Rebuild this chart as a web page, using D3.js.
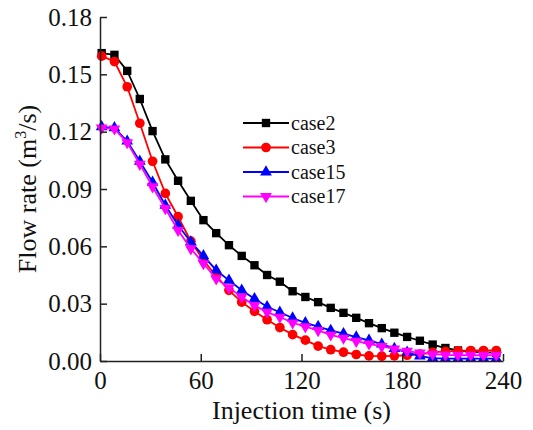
<!DOCTYPE html>
<html>
<head>
<meta charset="utf-8">
<script src="https://cdn.jsdelivr.net/npm/d3@7"></script>
<style>
  html, body { margin: 0; padding: 0; background: #fff; }
  svg { display: block; }
  text { font-family: "Liberation Serif", "Times New Roman", serif; fill: #111; }
</style>
</head>
<body>
<svg id="chart" width="533" height="430"></svg>
<script>
// Injection time samples (s)
const times = [1.0, 8.6, 16.2, 23.7, 31.3, 38.9, 46.5, 54.1, 61.6, 69.2, 76.8, 84.4,
  92.0, 99.5, 107.1, 114.7, 122.3, 129.9, 137.4, 145.0, 152.6, 160.2, 167.8, 175.3,
  182.9, 190.5, 198.1, 205.7, 213.2, 220.8, 228.4, 236.0];

// Flow rate (m3/s) for each case
const case2 = [0.1611, 0.1602, 0.1518, 0.1371, 0.1203, 0.1055, 0.0943, 0.0838, 0.0737, 0.0669,
  0.0606, 0.0550, 0.0501, 0.0450, 0.0415, 0.0365, 0.0335, 0.0308, 0.0278, 0.0252, 0.0226, 0.0198,
  0.0172, 0.0148, 0.0126, 0.0106, 0.0086, 0.0068, 0.0055, 0.0048, 0.0045, 0.0043];
const case3 = [0.1595, 0.1567, 0.1435, 0.1244, 0.1045, 0.0877, 0.0755, 0.0627, 0.0527, 0.0445,
  0.0370, 0.0308, 0.0260, 0.0216, 0.0175, 0.0138, 0.0109, 0.0078, 0.0059, 0.0046, 0.0034, 0.0027,
  0.0025, 0.0027, 0.0030, 0.0036, 0.0045, 0.0050, 0.0053, 0.0055, 0.0055, 0.0055];
const case15 = [0.1225, 0.1220, 0.1150, 0.1045, 0.0935, 0.0815, 0.0710, 0.0623, 0.0550, 0.0475,
  0.0422, 0.0370, 0.0326, 0.0284, 0.0255, 0.0225, 0.0200, 0.0180, 0.0160, 0.0143, 0.0125, 0.0108,
  0.0088, 0.0065, 0.0045, 0.0025, 0.0015, 0.0012, 0.0012, 0.0012, 0.0012, 0.0012];
const case17 = [0.1220, 0.1215, 0.1143, 0.1030, 0.0912, 0.0798, 0.0684, 0.0588, 0.0510, 0.0431,
  0.0384, 0.0335, 0.0291, 0.0256, 0.0230, 0.0200, 0.0180, 0.0160, 0.0137, 0.0120, 0.0104, 0.0090,
  0.0076, 0.0063, 0.0052, 0.0042, 0.0036, 0.0032, 0.0030, 0.0030, 0.0030, 0.0030];

const xTicks = [0, 60, 120, 180, 240];
const yTicks = [0.00, 0.03, 0.06, 0.09, 0.12, 0.15, 0.18];

const seriesNames = ["case2", "case3", "case15", "case17"];
const seriesColors = ["#000000", "#ff0000", "#0000ff", "#ff00ff"];

const series = [
  { name: seriesNames[0], values: case2, color: seriesColors[0], symbol: d3.symbolSquare, rot: 0, size: 70 },
  { name: seriesNames[1], values: case3, color: seriesColors[1], symbol: d3.symbolCircle, rot: 0, size: 74 },
  { name: seriesNames[2], values: case15, color: seriesColors[2], symbol: d3.symbolTriangle, rot: 0, size: 60 },
  { name: seriesNames[3], values: case17, color: seriesColors[3], symbol: d3.symbolTriangle, rot: 180, size: 60 }
];

const svg = d3.select("#chart");
svg.append("rect").attr("width", 533).attr("height", 430).attr("fill", "#fff");

const plotLeft = 100, plotRight = 503, plotTop = 17, plotBottom = 361;
const x = d3.scaleLinear().domain([0, 240]).range([plotLeft, plotRight]);
const y = d3.scaleLinear().domain([0, 0.18]).range([plotBottom, plotTop]);

// Data lines and markers
const line = d3.line().x((d, i) => x(times[i])).y(d => y(d));
const plot = svg.append("g");
series.forEach(s => {
  const g = plot.append("g");
  g.append("path")
    .attr("d", line(s.values))
    .attr("fill", "none")
    .attr("stroke", s.color)
    .attr("stroke-width", 1.8);
  g.selectAll("path.m")
    .data(s.values)
    .enter().append("path")
    .attr("class", "m")
    .attr("d", d3.symbol().type(s.symbol).size(s.size))
    .attr("transform", (d, i) => `translate(${x(times[i])},${y(d)}) rotate(${s.rot})`)
    .attr("fill", s.color);
});

// Axes (ticks pointing inward)
const xAxis = svg.append("g")
  .attr("transform", `translate(0,${plotBottom})`)
  .call(d3.axisBottom(x).tickValues(xTicks).tickFormat(d3.format("d")).tickSizeInner(-7).tickSizeOuter(0).tickPadding(10));
const yAxis = svg.append("g")
  .attr("transform", `translate(${plotLeft},0)`)
  .call(d3.axisLeft(y).tickValues(yTicks).tickFormat(d3.format(".2f")).tickSizeInner(-7).tickSizeOuter(0).tickPadding(8));

[xAxis, yAxis].forEach(a => {
  a.select(".domain").attr("stroke", "#222").attr("stroke-width", 1.5);
  a.selectAll(".tick line").attr("stroke", "#222").attr("stroke-width", 1.5);
  a.selectAll(".tick text")
    .attr("font-family", "Liberation Serif, Times New Roman, serif")
    .attr("font-size", 25)
    .attr("fill", "#111");
});

// Axis titles
svg.append("text")
  .attr("x", (plotLeft + plotRight) / 2)
  .attr("y", 419)
  .attr("text-anchor", "middle")
  .attr("font-size", 26)
  .text("Injection time (s)");

const yt = svg.append("text")
  .attr("transform", `translate(36,${(plotTop + plotBottom) / 2}) rotate(-90)`)
  .attr("text-anchor", "middle")
  .attr("font-size", 26);
yt.append("tspan").text("Flow rate (m");
yt.append("tspan").attr("font-size", 16).attr("dy", -10).text("3");
yt.append("tspan").attr("dy", 10).text("/s)");

// Legend
const legend = svg.append("g");
series.forEach((s, i) => {
  const ly = 123 + i * 24.5;
  legend.append("line")
    .attr("x1", 243).attr("x2", 289).attr("y1", ly).attr("y2", ly)
    .attr("stroke", s.color).attr("stroke-width", 1.8);
  legend.append("path")
    .attr("d", d3.symbol().type(s.symbol).size(s.size))
    .attr("transform", `translate(266,${ly}) rotate(${s.rot})`)
    .attr("fill", s.color);
  legend.append("text")
    .attr("x", 291).attr("y", ly + 6.5)
    .attr("font-size", 20)
    .text(s.name);
});
</script>
</body>
</html>
